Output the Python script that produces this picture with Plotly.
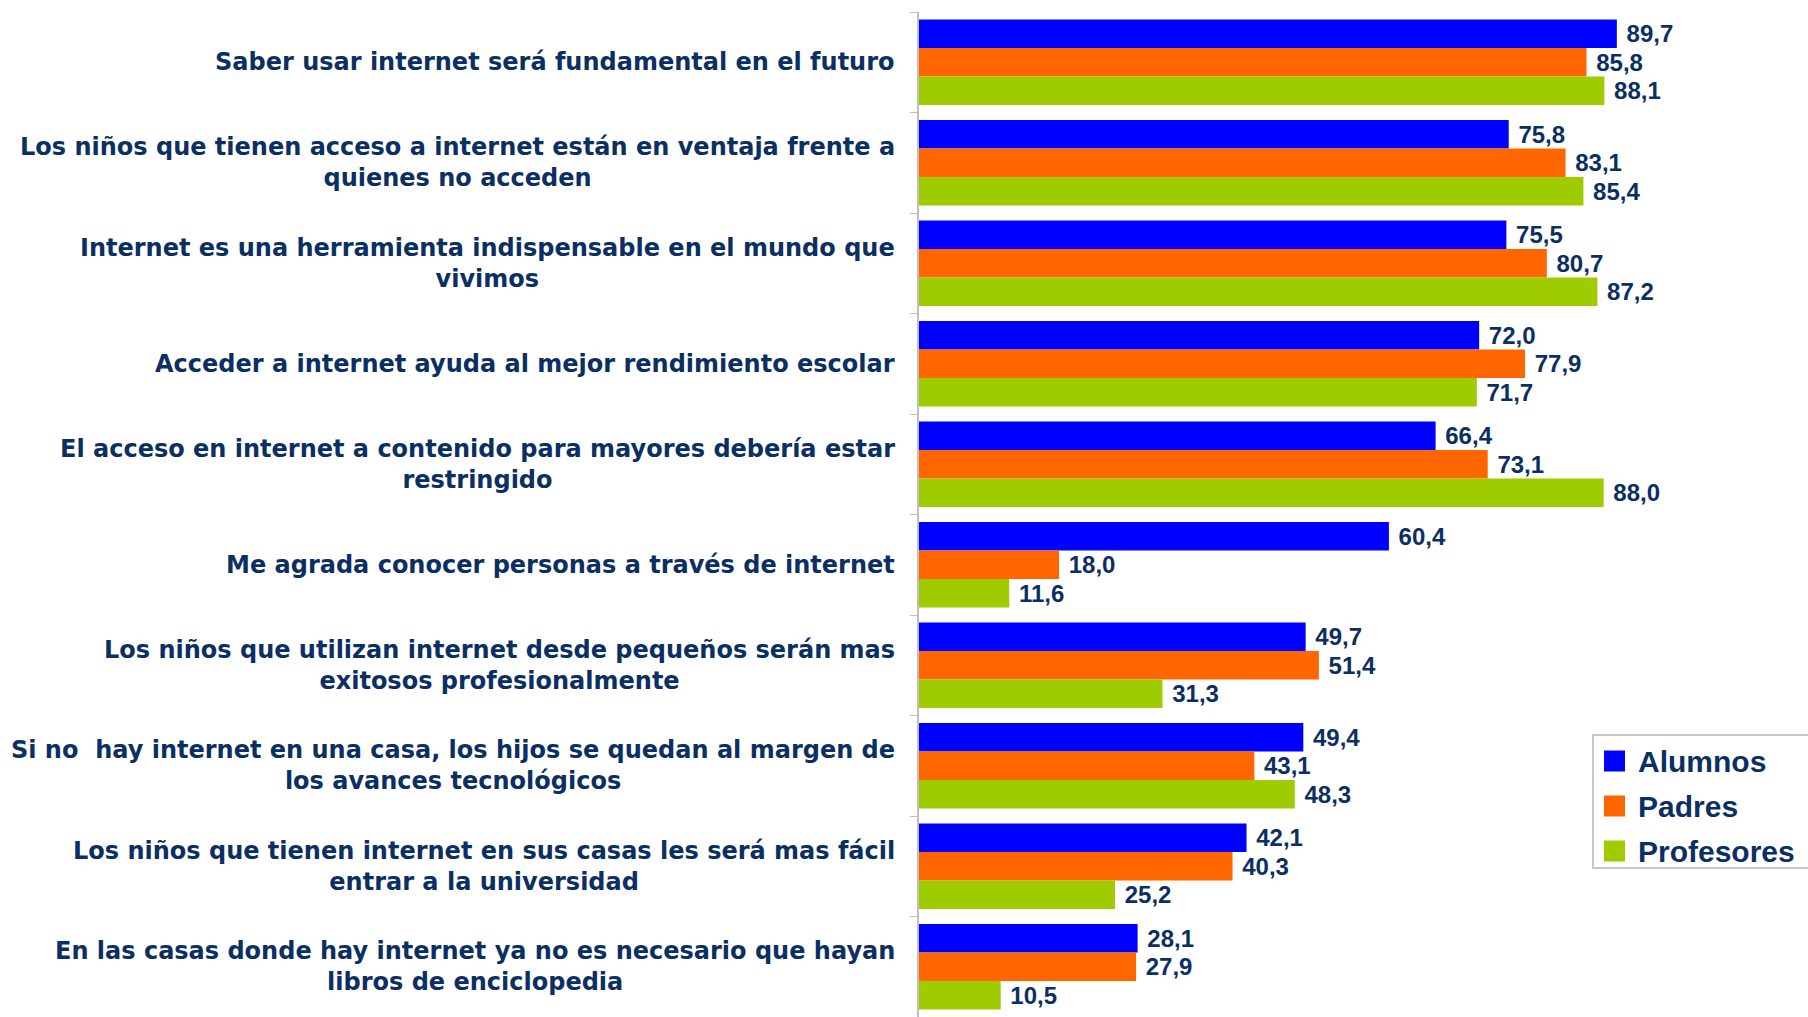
import plotly.graph_objects as go

# statements, top to bottom
categories = [
    "Saber usar internet será fundamental en el futuro",
    "Los niños que tienen acceso a internet están en ventaja frente a<br>quienes no acceden",
    "Internet es una herramienta indispensable en el mundo que<br>vivimos",
    "Acceder a internet ayuda al mejor rendimiento escolar",
    "El acceso en internet a contenido para mayores debería estar<br>restringido",
    "Me agrada conocer personas a través de internet",
    "Los niños que utilizan internet desde pequeños serán mas<br>exitosos profesionalmente",
    "Si no  hay internet en una casa, los hijos se quedan al margen de<br>los avances tecnológicos",
    "Los niños que tienen internet en sus casas les será mas fácil<br>entrar a la universidad",
    "En las casas donde hay internet ya no es necesario que hayan<br>libros de enciclopedia",
]

alumnos = [89.7, 75.8, 75.5, 72.0, 66.4, 60.4, 49.7, 49.4, 42.1, 28.1]
padres = [85.8, 83.1, 80.7, 77.9, 73.1, 18.0, 51.4, 43.1, 40.3, 27.9]
profesores = [88.1, 85.4, 87.2, 71.7, 88.0, 11.6, 31.3, 48.3, 25.2, 10.5]

series = [
    ("Alumnos", alumnos, "#0000FF"),
    ("Padres", padres, "#FF6600"),
    ("Profesores", profesores, "#9ECC00"),
]

navy = "#0B2F63"
label_font = "DejaVu Sans, Verdana, sans-serif"
value_font = "Liberation Sans, Arial, sans-serif"

W, H = 1808, 1017
L, R, T, B = 919, 111, 12, 0
pw, ph = W - L - R, H - T - B


def px_x(x):
    return (x - L) / pw


def px_y(y):
    return 1 - (y - T) / ph


fig = go.Figure()
for name, vals, color in series:
    fig.add_trace(go.Bar(
        y=categories, x=vals, name=name, orientation="h",
        marker=dict(color=color, line=dict(width=0)),
        texttemplate="\u00a0%{x:.1f}", textposition="outside",
        textfont=dict(family=value_font, size=24, color=navy, weight="bold"),
        cliponaxis=False, showlegend=False,
    ))

# category labels as annotations so the two lines are centred
for cat in categories:
    fig.add_annotation(
        x=0, xref="paper", y=cat, yref="y", text=cat,
        xanchor="right", yanchor="middle", align="center", xshift=-22,
        showarrow=False,
        font=dict(family=label_font, size=24, color=navy, weight="bold"),
    )

# legend drawn by hand (bigger swatches than plotly's)
fig.add_shape(type="rect", xref="paper", yref="paper",
              x0=px_x(1593), x1=px_x(1812), y0=px_y(868), y1=px_y(735),
              line=dict(color="#C8C8C8", width=2), fillcolor="white", layer="above")
row_y = [761, 806, 851]
for (name, vals, color), ry in zip(series, row_y):
    fig.add_shape(type="rect", xref="paper", yref="paper",
                  x0=px_x(1604), x1=px_x(1625), y0=px_y(ry + 10.5), y1=px_y(ry - 10.5),
                  line=dict(width=0), fillcolor=color, layer="above")
    fig.add_annotation(
        x=px_x(1636), xref="paper", y=px_y(ry), yref="paper", text=name,
        xanchor="left", yanchor="middle", showarrow=False,
        font=dict(family=value_font, size=30, color=navy, weight="bold"),
    )

fig.update_layout(
    width=W, height=H,
    margin=dict(l=L, r=R, t=T, b=B),
    paper_bgcolor="white", plot_bgcolor="white",
    barmode="group", bargap=0.15, bargroupgap=0,
    separators=",.",
    showlegend=False,
    xaxis=dict(range=[0, 100], visible=False),
    yaxis=dict(
        autorange="reversed", showticklabels=False,
        showline=True, linecolor="#BFBFBF", linewidth=2,
        ticks="outside", tickson="boundaries", ticklen=7, tickcolor="#BFBFBF",
        showgrid=False, zeroline=False,
    ),
)

fig.write_html("out.html", config={"displayModeBar": False},
               post_script="document.body.style.margin='0';")
